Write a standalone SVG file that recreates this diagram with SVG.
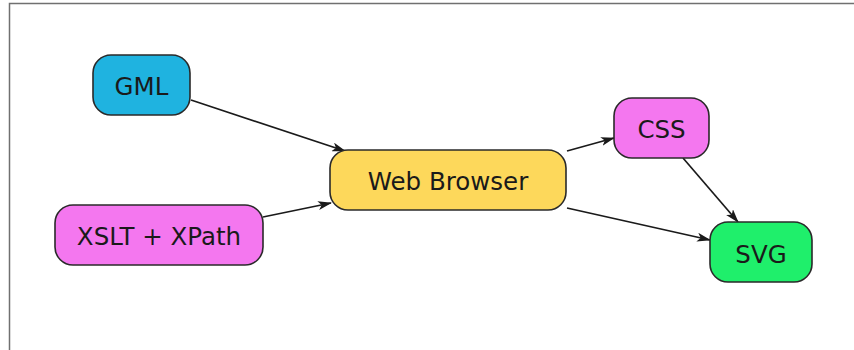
<svg xmlns="http://www.w3.org/2000/svg" width="854" height="350" viewBox="0 0 854 350">
  <defs>
    <marker id="arrow" viewBox="0 0 14 9" refX="13" refY="4.5" markerWidth="14" markerHeight="9" markerUnits="userSpaceOnUse" orient="auto">
      <path d="M0,0 L14,4.5 L0,9 L3.5,4.5 Z" fill="#1a1a1a"/>
    </marker>
  </defs>
  <style>
    .node rect { stroke: #2a2a2a; stroke-width: 1.6; }
    .node text { font-family: "DejaVu Sans", sans-serif; font-size: 24.5px; fill: #1a1a1a; text-anchor: middle; dominant-baseline: central; }
    .edge { stroke: #1a1a1a; stroke-width: 1.7; fill: none; marker-end: url(#arrow); }
  </style>
  <rect width="854" height="350" fill="#ffffff"/>
  <!-- frame -->
  <path d="M9.5,350 V3.5 H854" fill="none" stroke="#707070" stroke-width="1.5"/>

  <g id="connectors">
    <line class="edge" x1="191" y1="100" x2="345" y2="151"/>
    <line class="edge" x1="263" y1="217" x2="331" y2="203"/>
    <line class="edge" x1="567" y1="151" x2="614" y2="138"/>
    <line class="edge" x1="567" y1="208" x2="710" y2="240"/>
    <line class="edge" x1="683" y1="158" x2="738" y2="222"/>
  </g>

  <g id="gml" class="node">
    <rect x="93" y="55" width="97" height="60" rx="18" fill="#1fb3e0"/>
    <text x="141.5" y="86">GML</text>
  </g>
  <g id="xslt" class="node">
    <rect x="55" y="205" width="208" height="60" rx="18" fill="#f477ef"/>
    <text x="159" y="236">XSLT + XPath</text>
  </g>
  <g id="browser" class="node">
    <rect x="330" y="150" width="236" height="60" rx="18" fill="#fdd85b"/>
    <text x="448" y="181">Web Browser</text>
  </g>
  <g id="css" class="node">
    <rect x="614" y="98" width="95" height="60" rx="18" fill="#f477ef"/>
    <text x="661.5" y="129">CSS</text>
  </g>
  <g id="svg" class="node">
    <rect x="710" y="222" width="102" height="60" rx="18" fill="#1fef6b"/>
    <text x="761" y="254">SVG</text>
  </g>
</svg>
